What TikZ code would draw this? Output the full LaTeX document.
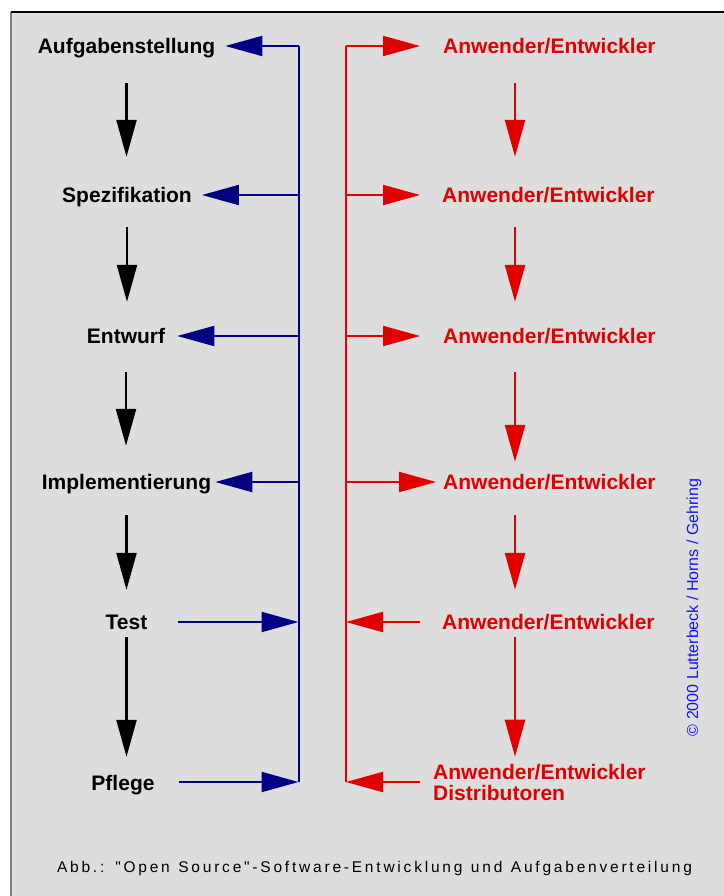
\documentclass[tikz,border=0pt]{standalone}
\usepackage{fontspec}
\setmainfont{Liberation Sans}
\newfontfamily\capfont{Liberation Sans}[LetterSpace=18, Ligatures=TeXOff]
\usetikzlibrary{arrows.meta}
\definecolor{panel}{RGB}{221,221,221}
\definecolor{paneledge}{RGB}{128,128,128}
\definecolor{busblue}{RGB}{0,0,128}
\definecolor{busred}{RGB}{224,0,0}
\definecolor{credit}{RGB}{20,20,235}

\begin{document}
\begin{tikzpicture}[x=1pt,y=-1pt,
  txt/.style={font=\fontsize{21}{20.7}\selectfont\bfseries, inner sep=0pt},
  phase/.style={txt, text height=15pt, text depth=0pt},
  actor/.style={phase, text=busred, anchor=west},
  tip/.style={-{Triangle[length=37pt,width=20pt]}},
  flow/.style={tip, line width=2.5pt, black},
  redflow/.style={tip, line width=2.5pt, busred},
  bluebr/.style={tip, line width=2pt, busblue},
  redbr/.style={tip, line width=2pt, busred},
  bus/.style={line width=2pt}
]
\useasboundingbox (0,0) rectangle (723,896);

% panel
\fill[panel] (11,12) rectangle (740,910);
\draw[paneledge, line width=1.5pt] (11,910) -- (11,12);
\draw[black, line width=1.2pt] (11,12) -- (740,12);

% development phases
\node[phase] (aufg) at (126.5,46) {Aufgabenstellung};
\node[phase] (spez) at (127,195) {Spezifikation};
\node[phase] (entw) at (126,336) {Entwurf};
\node[phase] (impl) at (126.5,482) {Implementierung};
\node[phase] (test) at (126.5,622) {Test};
\node[phase] (pfl)  at (123,783) {Pflege};

\draw[flow, shorten <=29.5pt, shorten >=30.5pt] (aufg.south) -- (aufg.south |- spez.north);
\draw[flow, shorten <=24.5pt, shorten >=26.5pt] (spez.south) -- (spez.south |- entw.north);
\draw[flow, shorten <=28.5pt, shorten >=28.5pt] (entw.south) -- (entw.south |- impl.north);
\draw[flow, shorten <=25.5pt, shorten >=24.5pt] (impl.south) -- (impl.south |- test.north);
\draw[flow, shorten <=7.5pt,  shorten >=18.5pt] (test.south) -- (test.south |- pfl.north);

% actors
\node[actor] (a1) at (443,46) {Anwender/Entwickler};
\node[actor] (a2) at (442,195) {Anwender/Entwickler};
\node[actor] (a3) at (443,336) {Anwender/Entwickler};
\node[actor] (a4) at (443,482) {Anwender/Entwickler};
\node[actor] (a5) at (442,622) {Anwender/Entwickler};
\node[txt, text=busred, anchor=west, align=left] (a6) at (433,782.6)
  {Anwender/Entwickler\\Distributoren};

\coordinate (rx) at (515,0);
\draw[redflow, shorten <=29.5pt, shorten >=30.5pt] (a1.south -| rx) -- (a2.north -| rx);
\draw[redflow, shorten <=24.5pt, shorten >=26.5pt] (a2.south -| rx) -- (a3.north -| rx);
\draw[redflow, shorten <=28.5pt, shorten >=12.5pt] (a3.south -| rx) -- (a4.north -| rx);
\draw[redflow, shorten <=25.5pt, shorten >=24.5pt] (a4.south -| rx) -- (a5.north -| rx);
\draw[redflow, shorten <=7.5pt,  shorten >=7.6pt]  (a5.south -| rx) -- (a6.north -| rx);

% blue bus
\foreach \n/\y in {1/46,2/195,3/336,4/482,5/622,6/782}
  \coordinate (b\n) at (298.5,\y);
\draw[bus, busblue] (b1) -- (b6);
\draw[bluebr, shorten >=10pt] (b1) -- (aufg.east);
\draw[bluebr, shorten >=10pt] (b2) -- (spez.east);
\draw[bluebr, shorten >=12pt] (b3) -- (entw.east);
\draw[bluebr, shorten >=4pt]  (b4) -- (impl.east);
\draw[bluebr, shorten <=30pt] (test.east) -- (b5);
\draw[bluebr, shorten <=24pt] (pfl.east |- b6) -- (b6);

% red bus
\foreach \n/\y in {1/46,2/195,3/336,4/482,5/622,6/782}
  \coordinate (r\n) at (346,\y);
\draw[bus, busred] (r1) -- (r6);
\draw[redbr, shorten >=23pt] (r1) -- (a1.west);
\draw[redbr, shorten >=22pt] (r2) -- (a2.west);
\draw[redbr, shorten >=23pt] (r3) -- (a3.west);
\draw[redbr, shorten >=7pt]  (r4) -- (a4.west);
\draw[redbr, shorten <=22pt] (a5.west) -- (r5);
\draw[redbr, shorten <=13pt] (a6.west |- r6) -- (r6);

% caption and credit
\node[font=\capfont\fontsize{15.5}{18}\selectfont, anchor=base, inner sep=0pt]
  (cap) at (374.5,872.5)
  {\spaceskip=8.5pt Abb.: "Open Source"-Software-Entwicklung und Aufgabenverteilung};
\node[font=\fontsize{16}{18}\selectfont, text=credit, rotate=90, anchor=base, inner sep=0pt]
  (cred) at (698,607.5) {© 2000 Lutterbeck / Horns / Gehring};
\end{tikzpicture}
\end{document}
